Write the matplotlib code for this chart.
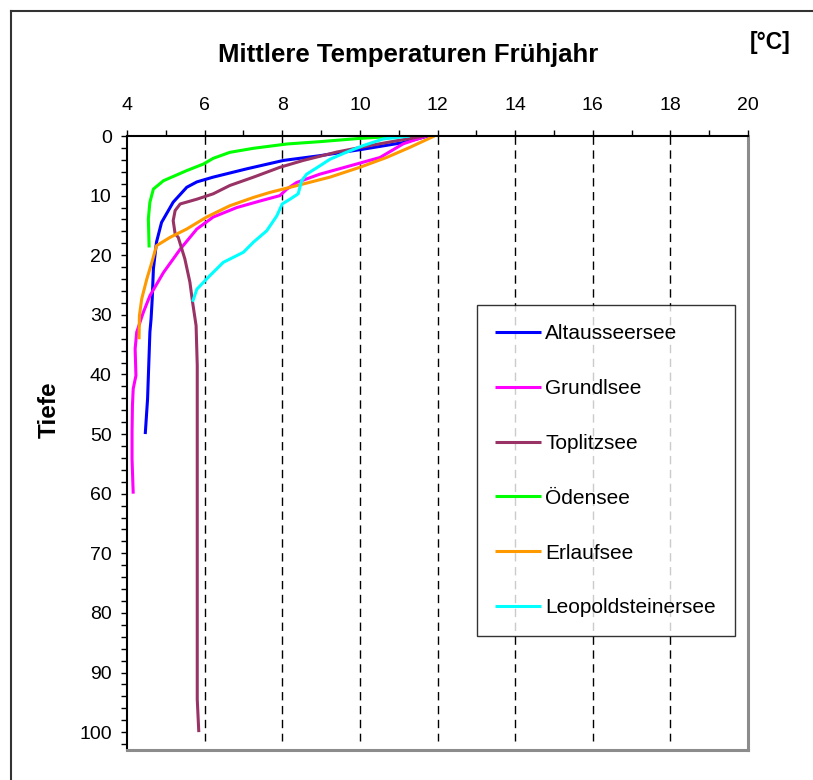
import matplotlib.pyplot as plt
from matplotlib.lines import Line2D
from matplotlib.ticker import MultipleLocator

plt.rcParams['font.family'] = ['Liberation Sans', 'DejaVu Sans']

# Temperatur [°C] und Tiefe [m]
alt_temp = [11.76, 11.12, 10.0, 8.97, 8.03, 7.09, 6.22, 5.8, 5.54, 5.19, 4.89, 4.76,
            4.68, 4.65, 4.62, 4.59, 4.53, 4.47]
alt_depth = [0, 1.1, 2.3, 3.3, 4.1, 5.5, 6.9, 7.7, 8.6, 11.1, 14.5, 17.8,
             22.3, 27.3, 30.7, 32.9, 44.1, 50]

grundl_temp = [11.72, 11.12, 10.52, 9.75, 8.97, 8.37, 8.12, 7.94, 7.43, 6.83, 6.22,
               5.8, 5.37, 4.94, 4.59, 4.42, 4.25, 4.21, 4.23, 4.16, 4.14, 4.13,
               4.13, 4.16]
grundl_depth = [0, 1.3, 3.6, 5.0, 6.4, 7.8, 8.9, 10.0, 10.9, 12.0, 13.6,
                15.6, 19.0, 22.9, 26.8, 29.6, 32.9, 35.7, 40.2, 42.4, 45.2, 49.7,
                54.2, 60]

toplitz_temp = [11.66, 10.95, 10.26, 9.4, 8.54, 7.94, 7.26, 6.65, 6.22, 5.8, 5.37,
                5.24, 5.19, 5.24, 5.32, 5.49, 5.62, 5.69, 5.78, 5.81, 5.81, 5.81,
                5.81, 5.85]
toplitz_depth = [0, 0.8, 1.6, 2.7, 4.1, 5.25, 6.9, 8.3, 9.7, 10.6, 11.4,
                 12.5, 14.2, 16.4, 17.0, 20.6, 24.5, 27.9, 31.8, 38.5, 55.3, 77.7,
                 94.5, 100]

oeden_temp = [11.04, 10.0, 8.97, 8.12, 7.26, 6.65, 6.22, 5.97, 5.54, 4.94, 4.68,
              4.59, 4.55, 4.57]
oeden_depth = [0, 0.4, 0.95, 1.34, 2.06, 2.74, 3.75, 4.7, 5.8, 7.5, 8.9,
               11.1, 13.9, 18.7]

erlauf_temp = [11.92, 11.29, 10.69, 10.0, 9.23, 8.54, 7.69, 7.26, 6.65, 6.05, 5.54,
               5.11, 4.76, 4.64, 4.51, 4.38, 4.32, 4.31]
erlauf_depth = [0, 1.9, 3.6, 5.25, 6.9, 8.05, 9.45, 10.3, 11.7, 13.6, 15.6,
                17.0, 18.4, 21.2, 24.0, 27.3, 30.1, 34.1]

leopold_temp = [11.29, 10.6, 10.09, 9.66, 9.23, 8.97, 8.63, 8.5, 8.41, 8.2, 8.0,
                7.86, 7.6, 7.26, 7.0, 6.48, 6.14, 5.8, 5.69]
leopold_depth = [0, 0.5, 1.6, 2.7, 3.9, 5.0, 6.4, 7.5, 9.7, 10.6, 11.4,
                 13.4, 15.9, 17.8, 19.5, 21.2, 23.4, 25.7, 27.8]

series = [
    ('Altausseersee', alt_temp, alt_depth, '#0000FF'),
    ('Grundlsee', grundl_temp, grundl_depth, '#FF00FF'),
    ('Toplitzsee', toplitz_temp, toplitz_depth, '#993366'),
    ('Ödensee', oeden_temp, oeden_depth, '#00FF00'),
    ('Erlaufsee', erlauf_temp, erlauf_depth, '#FF9900'),
    ('Leopoldsteinersee', leopold_temp, leopold_depth, '#00FFFF'),
]

fig = plt.figure(figsize=(8.13, 7.8), dpi=100)
ax = fig.add_axes([127 / 813, 1 - 750 / 780, 621 / 813, 614 / 780])

for name, temp, depth, color in series:
    ax.plot(temp, depth, color=color, lw=2.2, label=name, solid_capstyle='butt')

ax.set_xlim(4, 20)
ax.set_ylim(103, 0)

# senkrechte gestrichelte Gitterlinien
for xv in range(6, 20, 2):
    ax.plot([xv, xv], [0, 101.5], color='black', lw=1, ls=(0, (6, 4)), zorder=0)

ax.xaxis.tick_top()
ax.xaxis.set_major_locator(MultipleLocator(2))
ax.xaxis.set_minor_locator(MultipleLocator(1))
ax.yaxis.set_major_locator(MultipleLocator(10))
ax.yaxis.set_minor_locator(MultipleLocator(2))
ax.tick_params(axis='both', which='both', direction='out', length=4, width=1,
               labelsize=14, colors='black')
ax.tick_params(axis='x', which='major', pad=12)
ax.tick_params(axis='y', which='major', pad=7)

for side in ['top', 'left']:
    ax.spines[side].set_color('black')
    ax.spines[side].set_linewidth(1.5)
for side in ['right', 'bottom']:
    ax.spines[side].set_color('#8c8c8c')
    ax.spines[side].set_linewidth(2.2)

ax.set_ylabel('Tiefe', fontsize=17.5, fontweight='bold')
ax.yaxis.set_label_coords(-0.106, 0.554)

fig.text(0.5015, 1 - 55 / 780, 'Mittlere Temperaturen Frühjahr', ha='center',
         va='center', fontsize=18.5, fontweight='bold')
fig.text(790 / 813, 1 - 43 / 780, '[°C]', ha='right', va='center', fontsize=16.5,
         fontweight='bold')

leg = ax.legend(loc='upper left', bbox_to_anchor=(0.563, 0.724), fontsize=15,
                frameon=True, fancybox=False, edgecolor='black', labelspacing=1.72,
                handlelength=2.2, handletextpad=0.2, borderpad=0.9,
                borderaxespad=0)
leg.get_frame().set_linewidth(1.0)

# äußerer Rahmen (nur oben und links sichtbar)
fig.add_artist(Line2D([10.5 / 813, 1], [1 - 11 / 780, 1 - 11 / 780],
                      transform=fig.transFigure, color='#333333', lw=1.5))
fig.add_artist(Line2D([10.5 / 813, 10.5 / 813], [0, 1 - 11 / 780],
                      transform=fig.transFigure, color='#333333', lw=1.5))

fig.savefig('out.png', dpi=100)
